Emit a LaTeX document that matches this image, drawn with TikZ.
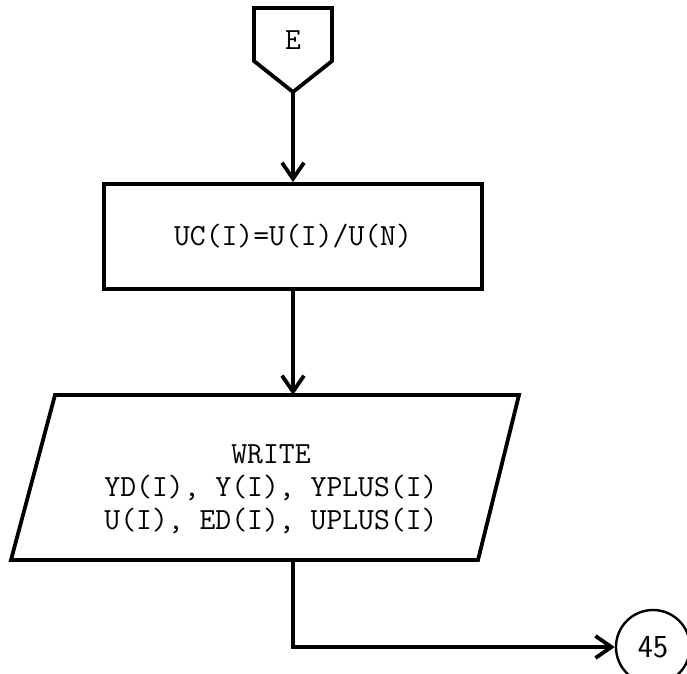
\documentclass[tikz,border=0pt]{standalone}
\usepackage{tikz}
\usetikzlibrary{positioning, arrows.meta, calc}

\begin{document}
\begin{tikzpicture}[x=0.5pt, y=-0.5pt, line width=1.9pt,
  font=\ttfamily\fontsize{15.4}{16.5}\selectfont,
  flow/.style={-{Straight Barb[length=8pt, width=11pt]}},
  procbox/.style={draw, minimum width=189pt, minimum height=52.5pt, inner sep=0pt},
  conn/.style={draw, circle, line width=1.2pt, minimum size=37pt, inner sep=0pt, font=\sffamily\fontsize{16}{18}\selectfont}
]
  \useasboundingbox (0,0) rectangle (687,674);

  % off-page connector
  \draw (254,8) -- (332,8) -- (332,61) -- (293,92) -- (254,61) -- cycle;
  \node (e) at (293,40) {E};
  \coordinate (etip) at (293,92);

  \node[procbox] (uc) at (293,236.5) {UC(I)=U(I)/U(N)};

  % output block
  \draw (55,395) -- (519,395) -- (478,560) -- (11,560) -- cycle;
  \coordinate (wtop) at (293,395);
  \coordinate (wbot) at (293,560);
  \node[align=center] (wr) at (271,489) {WRITE\\YD(I), Y(I), YPLUS(I)\\U(I), ED(I), UPLUS(I)};

  \node[conn] (c45) at (653,647) {45};

  \draw[flow] (etip) -- (uc);
  \draw[flow] (uc) -- (wtop);
  \draw[flow] (wbot) |- (c45);
\end{tikzpicture}
\end{document}
